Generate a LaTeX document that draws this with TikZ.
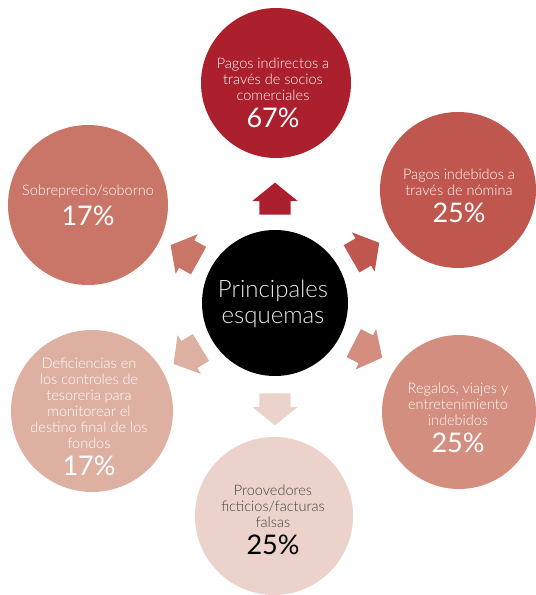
\documentclass[tikz,border=0pt]{standalone}
\usepackage{fontspec}
\setmainfont{Lato Light}
\newfontfamily\pctfont{Lato}
\usetikzlibrary{shapes.arrows}
\definecolor{tonoA}{HTML}{AC1F2D}
\definecolor{tonoB}{HTML}{C0574F}
\definecolor{tonoC}{HTML}{D48E7F}
\definecolor{tonoD}{HTML}{EBD3CB}
\definecolor{tonoE}{HTML}{DDB0A2}
\definecolor{tonoF}{HTML}{C97668}
\begin{document}
\begin{tikzpicture}[x=1pt,y=1pt,
    circ/.style={circle,inner sep=0pt,fill=#1},
    lbl/.style={align=center,text=white,font=\fontsize{14.5}{16}\selectfont},
    flecha/.style={single arrow,fill=#1,inner xsep=0pt,inner ysep=15.5pt,minimum height=32pt,minimum width=45pt,
      single arrow head extend=7pt,single arrow head indent=0pt,single arrow tip angle=102}]
    \useasboundingbox (0,0) rectangle (536,595);
    % circulos
    \node[circ=black,minimum size=146pt] (C0) at (275,292) {};
    \node[circ=tonoA,minimum size=150pt] (C1) at (276,512) {};
    \node[circ=tonoB,minimum size=156pt] (C2) at (458,405) {};
    \node[circ=tonoC,minimum size=154pt] (C3) at (459,183) {};
    \node[circ=tonoD,minimum size=158pt] (C4) at (274,79) {};
    \node[circ=tonoE,minimum size=162pt] (C5) at (92,184) {};
    \node[circ=tonoF,minimum size=160pt] (C6) at (88,390) {};
    % flechas
    \node[flecha=tonoA,rotate=90] (F1) at ([shift={(90:98)}]C0.center) {};
    \node[flecha=tonoB,rotate=30] (F2) at ([shift={(30:98)}]C0.center) {};
    \node[flecha=tonoC,rotate=-27] (F3) at ([shift={(-27:98)}]C0.center) {};
    \node[flecha=tonoD,rotate=-90] (F4) at ([shift={(-90:100)}]C0.center) {};
    \node[flecha=tonoE,rotate=211] (F5) at ([shift={(211:96)}]C0.center) {};
    \node[flecha=tonoF,rotate=151] (F6) at ([shift={(151:97)}]C0.center) {};
    % textos
    \node[align=center,text=white!92!black,font=\fontsize{24}{26}\selectfont] (T0) at (273,291) {Principales\\esquemas};
    \node[lbl] (T1) at (273,502) {Pagos indirectos a\\través de socios\\comerciales\\[7pt]{\pctfont\fontsize{27}{28}\selectfont 67\%}};
    \node[lbl] (T2) at (459,399) {Pagos indebidos a\\través de nómina\\[7pt]{\pctfont\fontsize{27}{28}\selectfont 25\%}};
    \node[lbl] (T3) at (458,177) {Regalos, viajes y\\entretenimiento\\indebidos\\[7pt]{\pctfont\fontsize{27}{28}\selectfont 25\%}};
    \node[lbl,text=black!75] (T4) at (273,75) {Proovedores\\ficticios/facturas\\falsas\\[7pt]{\pctfont\fontsize{27}{28}\selectfont\color{black} 25\%}};
    \node[lbl] (T5) at (89,178) {Deficiencias en\\los controles de\\tesoreria para\\monitorear el\\destino final de los\\fondos\\[7pt]{\pctfont\fontsize{27}{28}\selectfont 17\%}};
    \node[lbl] (T6) at (88,390) {Sobreprecio/soborno\\[7pt]{\pctfont\fontsize{27}{28}\selectfont 17\%}};
\end{tikzpicture}
\end{document}
